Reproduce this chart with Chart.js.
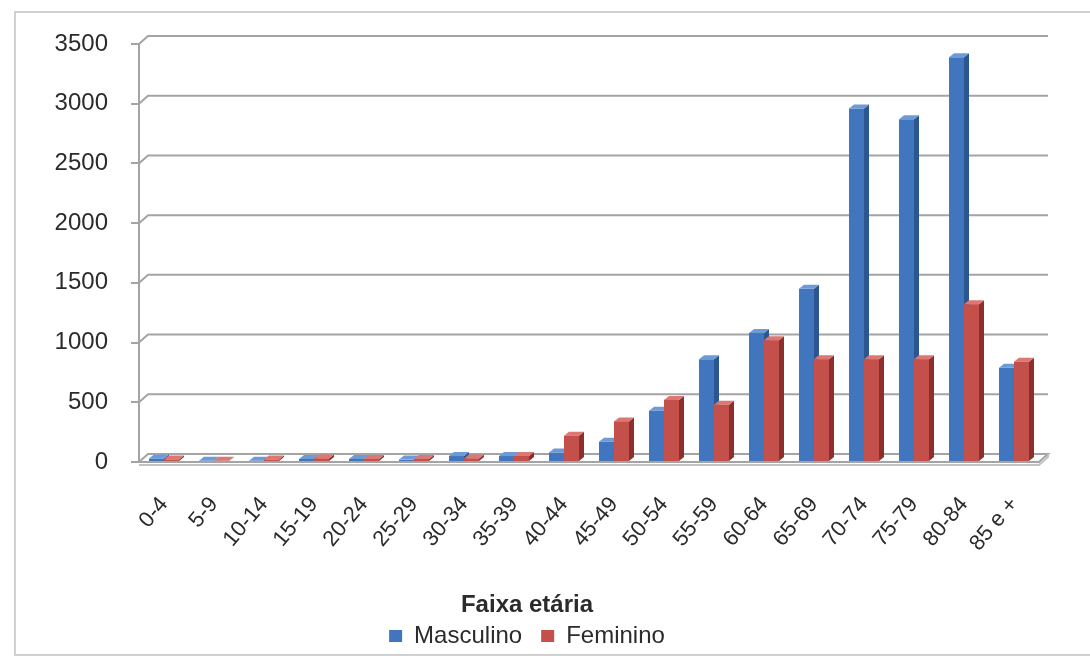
<!DOCTYPE html>
<html lang="pt">
<head>
<meta charset="utf-8">
<title>Faixa etária</title>
<script src="https://cdn.jsdelivr.net/npm/chart.js@4.4.1/dist/chart.umd.min.js"></script>
<style>
  html, body { margin: 0; padding: 0; background: #ffffff; }
  body { width: 1090px; height: 660px; overflow: hidden; position: relative; }
  .frame {
    position: absolute; left: 14px; top: 11px; width: 1110px; height: 645px;
    border: 2px solid #d0d0d0; box-sizing: border-box; background: #ffffff;
  }
  #wrap { position: absolute; left: 0; top: 0; width: 1090px; height: 660px; }
</style>
</head>
<body>
<div class="frame"></div>
<div id="wrap"><canvas id="chart" width="1090" height="660"></canvas></div>
<script>
// Age groups and counts per sex
const faixas = ['0-4', '5-9', '10-14', '15-19', '20-24', '25-29', '30-34', '35-39', '40-44',
  '45-49', '50-54', '55-59', '60-64', '65-69', '70-74', '75-79', '80-84', '85 e +'];
const masculino = [30, 10, 10, 25, 25, 20, 50, 50, 80, 170, 430, 860, 1080, 1450, 2960, 2870, 3390, 790];
const feminino  = [20, 10, 20, 30, 25, 25, 30, 50, 220, 340, 520, 480, 1020, 860, 860, 860, 1320, 840];
const yTicks = [0, 500, 1000, 1500, 2000, 2500, 3000, 3500];

const FONT = '"Liberation Sans", Arial, Helvetica, sans-serif';
const TEXT = '#2b2b2b';
const AXIS_GREY = '#a4a4a4';

// depth of the back wall / floor and of each column
const WALL_DX = 9, WALL_DY = -8;
const BAR_DX = 5, BAR_DY = -4;

const shades = [
  { front: '#4176be', top: '#6d9bd8', side: '#2c568f' },
  { front: '#c4504c', top: '#dc7773', side: '#8d2f2c' }
];

// back wall gridlines and floor, offset in depth
const wall3d = {
  id: 'wall3d',
  beforeDatasetsDraw(chart) {
    const { ctx, chartArea: a, scales: { y } } = chart;
    ctx.save();
    ctx.lineWidth = 2;
    ctx.strokeStyle = AXIS_GREY;
    y.ticks.forEach(t => {
      if (t.value === 0) return;
      const py = y.getPixelForValue(t.value);
      ctx.beginPath();
      ctx.moveTo(a.left, py);
      ctx.lineTo(a.left + WALL_DX, py + WALL_DY);
      ctx.lineTo(a.right + WALL_DX, py + WALL_DY);
      ctx.stroke();
    });
    // floor slab
    const b = y.getPixelForValue(0);
    ctx.fillStyle = '#ffffff';
    ctx.beginPath();
    ctx.moveTo(a.left, b);
    ctx.lineTo(a.right, b);
    ctx.lineTo(a.right + WALL_DX, b + WALL_DY);
    ctx.lineTo(a.left + WALL_DX, b + WALL_DY);
    ctx.closePath();
    ctx.fill();
    ctx.stroke();
    ctx.strokeStyle = '#c2c2c2';
    ctx.beginPath();
    ctx.moveTo(a.left, b + 3);
    ctx.lineTo(a.right, b + 3);
    ctx.lineTo(a.right + WALL_DX, b + WALL_DY + 3);
    ctx.lineTo(a.right + WALL_DX, b + WALL_DY);
    ctx.stroke();
    ctx.restore();
  }
};

function drawFaces(ctx, el, shade) {
  const { x, y, base, width } = el.getProps(['x', 'y', 'base', 'width'], true);
  const x0 = x - width / 2, x1 = x + width / 2;
  ctx.fillStyle = shade.side;
  ctx.beginPath();
  ctx.moveTo(x1, y);
  ctx.lineTo(x1 + BAR_DX, y + BAR_DY);
  ctx.lineTo(x1 + BAR_DX, base + BAR_DY);
  ctx.lineTo(x1, base);
  ctx.closePath();
  ctx.fill();
  ctx.fillStyle = shade.top;
  ctx.beginPath();
  ctx.moveTo(x0, y);
  ctx.lineTo(x1, y);
  ctx.lineTo(x1 + BAR_DX, y + BAR_DY);
  ctx.lineTo(x0 + BAR_DX, y + BAR_DY);
  ctx.closePath();
  ctx.fill();
}

// column tops and sides; later series are re-stacked over earlier side faces
const bars3d = {
  id: 'bars3d',
  afterDatasetsDraw(chart) {
    const ctx = chart.ctx;
    ctx.save();
    chart.data.datasets.forEach((ds, di) => {
      const meta = chart.getDatasetMeta(di);
      if (di > 0) meta.data.forEach(el => el.draw(ctx));
      meta.data.forEach(el => drawFaces(ctx, el, shades[di]));
    });
    ctx.restore();
  }
};

new Chart(document.getElementById('chart'), {
  type: 'bar',
  data: {
    labels: faixas,
    datasets: [
      { label: 'Masculino', data: masculino, backgroundColor: shades[0].front, borderWidth: 0 },
      { label: 'Feminino', data: feminino, backgroundColor: shades[1].front, borderWidth: 0 }
    ]
  },
  options: {
    responsive: false,
    devicePixelRatio: 1,
    animation: false,
    categoryPercentage: 0.6,
    barPercentage: 1.0,
    layout: { padding: { left: 15, right: 51, top: 44, bottom: 2 } },
    scales: {
      x: {
        grid: { display: false },
        border: { display: false },
        ticks: {
          minRotation: 50, maxRotation: 50, autoSkip: false, padding: 22,
          color: TEXT, font: { family: FONT, size: 22 }
        },
        afterFit(scale) { scale.height = 131; }
      },
      y: {
        min: 0, max: 3500,
        afterBuildTicks(scale) { scale.ticks = yTicks.map(v => ({ value: v })); },
        grid: { drawOnChartArea: false, drawTicks: true, tickLength: 8, color: AXIS_GREY, lineWidth: 2 },
        border: { display: true, color: AXIS_GREY, width: 2 },
        ticks: {
          padding: 23, color: TEXT, font: { family: FONT, size: 24 },
          callback: v => String(v)
        },
        afterFit(scale) { scale.width = 124; }
      }
    },
    plugins: {
      tooltip: { enabled: false },
      legend: {
        position: 'bottom',
        title: {
          display: true, text: 'Faixa etária', color: TEXT, padding: 0,
          font: { family: FONT, size: 24, weight: 'bold', lineHeight: 0.5 }
        },
        labels: {
          boxWidth: 13, boxHeight: 12, padding: 19, color: TEXT,
          font: { family: FONT, size: 24 }
        }
      }
    }
  },
  plugins: [wall3d, bars3d]
});
</script>
</body>
</html>
